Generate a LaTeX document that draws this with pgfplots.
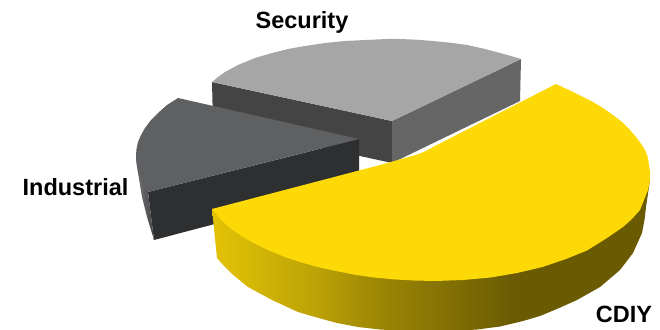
\documentclass[border=0pt]{standalone}
\usepackage{pgfplots}
\pgfplotsset{compat=1.18}
\usepackage{fontspec}
\setmainfont{Liberation Sans}
\definecolor{cdiyTop}{HTML}{FCD907}
\definecolor{secTop}{HTML}{A6A6A6}
\definecolor{secFront}{HTML}{444444}
\definecolor{secSide}{HTML}{666666}
\definecolor{indTop}{HTML}{5F6062}
\definecolor{indFront}{HTML}{2E2F31}
\definecolor{indWallL}{HTML}{737375}
\definecolor{indWallR}{HTML}{454648}
% Outer walls of the slices, lit from the left; the path spans 25bp to 75bp of each shading
\pgfdeclarehorizontalshading{cdiywall}{100bp}{
  color(0bp)=(cdiyTop!90!black);
  color(25bp)=(cdiyTop!90!black);
  color(27.5bp)=(cdiyTop!87!black);
  color(36.75bp)=(cdiyTop!75!black);
  color(44bp)=(cdiyTop!62!black);
  color(59.5bp)=(cdiyTop!42!black);
  color(100bp)=(cdiyTop!42!black)}
\pgfdeclarehorizontalshading{indwall}{100bp}{
  color(0bp)=(indWallL);
  color(25bp)=(indWallL);
  color(75bp)=(indWallR);
  color(100bp)=(indWallR)}
\newcommand{\lab}[1]{\fontsize{23.5}{26}\selectfont\bfseries #1}
\begin{document}
\begin{tikzpicture}
\begin{axis}[
  name=pie,
  scale only axis, width=660pt, height=329pt,
  xmin=0, xmax=660, ymin=0, ymax=329, y dir=reverse,
  hide axis, clip=true, no markers]

% Security slice
\addplot[fill=secFront, draw=none] coordinates {(212,82) (392,121) (392,163) (213,124)};
\addplot[fill=secSide, draw=none] coordinates {(392,121) (521,59) (520,101) (392,163)};
\addplot[fill=secTop, draw=none] coordinates {
  (212,82) (218,77) (225,72) (238,65) (255,58) (272,53) (288,49) (305,46) (325,43)
  (345,41) (365,40) (387,39) (400,39) (417,39.7) (433,41) (450,42.7)
  (467,45) (484,48.7) (500,53) (511,56) (521,59) (392,121)};

% Industrial slice
\addplot[fill=indFront, draw=none] coordinates {(148,192) (359,139) (359,186) (154,240)};
\addplot[shading=indwall, draw=none] coordinates {
  (136,155) (148,192) (154,240) (147,217) (142,197) (138,173)};
\addplot[fill=indTop, draw=none] coordinates {
  (178,98) (167,105) (158,113) (151,120) (145,128) (141,135) (138,142) (136.5,149)
  (136,155) (136.5,164) (138,172) (142,183) (148,192) (359,139)};

% CDIY slice
\addplot[shading=cdiywall, draw=none] coordinates {
  (212,209) (217,258) (224,266) (232,274) (248,287) (272,300) (298,312)
  (315,317) (337,323) (358,327) (380,329.5) (405,331) (430,331.5) (455,331) (477,329.5)
  (500,326.5) (523,321) (540,316) (558,308.5) (577,300) (600,287) (620,270) (633,253)
  (642,233) (644.5,220) (646,207) (650,180)};
\addplot[fill=cdiyTop, draw=none] coordinates {
  (212,209) (380,165) (405,158) (414,155.5) (420,153.5) (427,150.5) (433,147) (556,84)
  (573,92) (583,97) (593,102) (603,108) (613,115) (622,122) (630,130) (636,137)
  (642,145) (645.5,151) (648,158) (650,172) (650,180) (648,190) (640,210) (632,219)
  (623,227) (607,238) (587,250.5) (566,259) (542.5,267) (517,273) (490.6,277.5) (463,280)
  (435,281) (414,280.5) (394,279.4) (374,277.5) (354.6,274.7) (336,271) (317.5,267)
  (300,262) (284,256.7) (269,250.5) (255,243.8) (243,237) (231.5,229) (222,221)};

\node[anchor=base] at (axis cs:302,29) {\lab{Security}};
\node[anchor=base] at (axis cs:75.5,195) {\lab{Industrial}};
\node[anchor=base] at (axis cs:624,322) {\lab{CDIY}};
\end{axis}
% The page is exactly the plotting window
\pgfresetboundingbox
\path[use as bounding box] (pie.south west) rectangle (pie.north east);
\end{tikzpicture}
\end{document}
